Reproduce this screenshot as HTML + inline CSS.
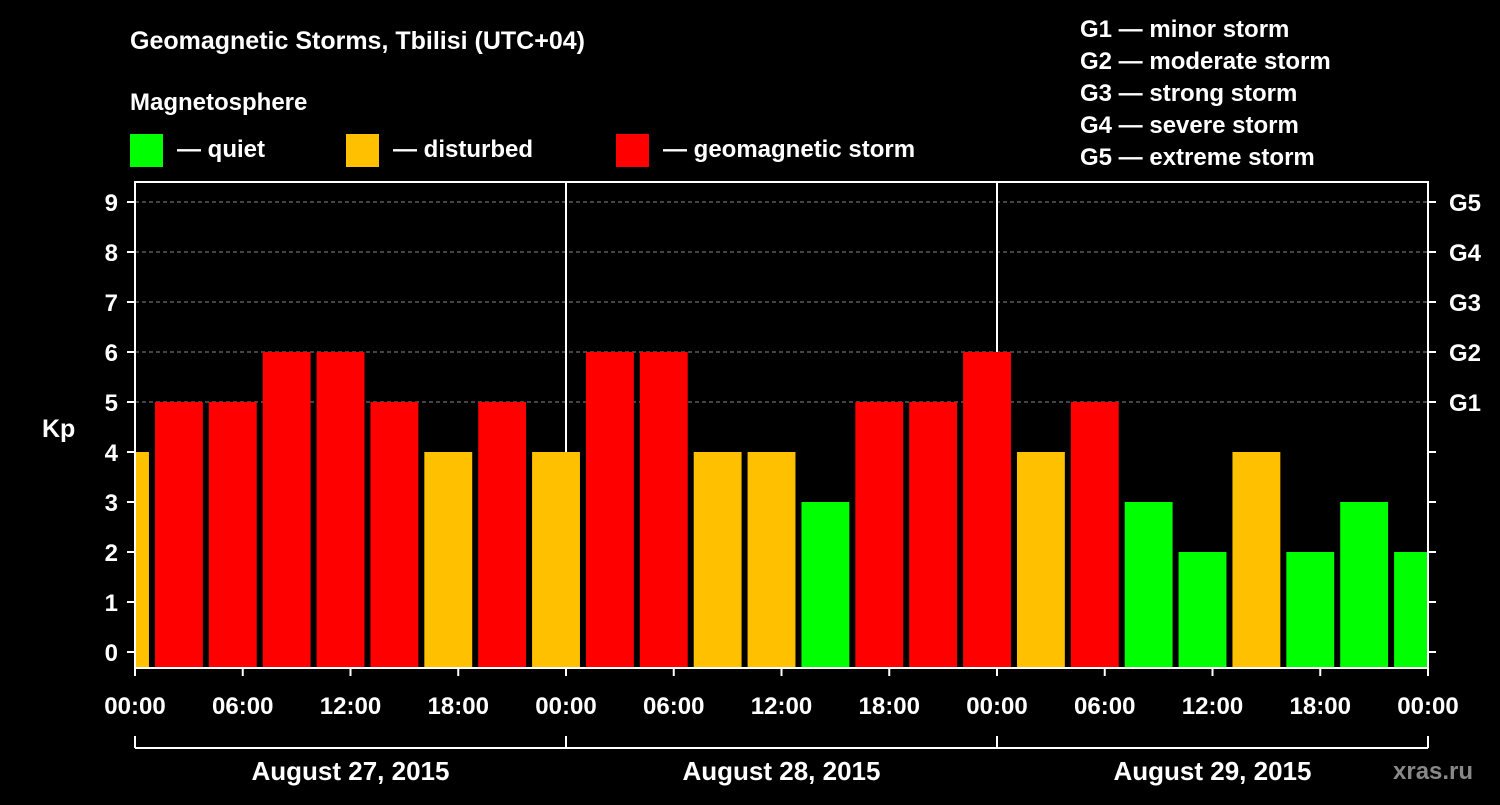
<!DOCTYPE html>
<html><head><meta charset="utf-8"><style>
body{margin:0;background:#000;width:1500px;height:800px;overflow:hidden}
svg text{font-family:"Liberation Sans",Arial,sans-serif;font-weight:bold;fill:#fff}
</style></head><body>
<svg id="chart" width="1500" height="800" xmlns="http://www.w3.org/2000/svg">
<rect width="1500" height="800" fill="#000"/>
<text x="130" y="49" font-size="25">Geomagnetic Storms, Tbilisi (UTC+04)</text>
<text x="130" y="110" font-size="24">Magnetosphere</text>
<g><rect x="130" y="134" width="33" height="33" fill="#00ff00"/><text x="177" y="157" font-size="24">— quiet</text></g>
<g><rect x="346" y="134" width="33" height="33" fill="#ffc000"/><text x="393" y="157" font-size="24">— disturbed</text></g>
<g><rect x="616" y="134" width="33" height="33" fill="#ff0000"/><text x="663" y="157" font-size="24">— geomagnetic storm</text></g>
<g font-size="24">
<text x="1080" y="37">G1 — minor storm</text>
<text x="1080" y="69">G2 — moderate storm</text>
<text x="1080" y="101">G3 — strong storm</text>
<text x="1080" y="133">G4 — severe storm</text>
<text x="1080" y="165">G5 — extreme storm</text>
</g>
<g id="grid"></g><g id="bars"></g><g id="axes"></g>
<text x="42" y="437" font-size="25">Kp</text>
<text x="1393" y="779" font-size="24" style="fill:#888">xras.ru</text>
</svg>
<script>
const kpValues=[4,5,5,6,6,5,4,5,4,6,6,4,4,3,5,5,6,4,5,3,2,4,2,3,2];
const barStartHours=[-2,1,4,7,10,13,16,19,22,25,28,31,34,37,40,43,46,49,52,55,58,61,64,67,70];
const xTickLabels=["00:00","06:00","12:00","18:00","00:00","06:00","12:00","18:00","00:00","06:00","12:00","18:00","00:00"];
const dayLabels=["August 27, 2015","August 28, 2015","August 29, 2015"];
const gLabels=["G1","G2","G3","G4","G5"];
const NS="http://www.w3.org/2000/svg";
const L=135,R=1428,T=182,B=668,H0=72;
const x=h=>L+(R-L)*h/H0;
const y=v=>652-50*v;
function mk(tag,a,p){const e=document.createElementNS(NS,tag);for(const k in a)e.setAttribute(k,a[k]);p.appendChild(e);return e;}
const grid=document.getElementById('grid'),bars=document.getElementById('bars'),axes=document.getElementById('axes');
for(let v=5;v<=9;v++){const l=mk('line',{x1:L,x2:R,y1:y(v),y2:y(v),stroke:'#888','stroke-dasharray':'4,3'},grid);

}
for(let d=1;d<3;d++){const l=mk('line',{x1:x(d*24),x2:x(d*24),y1:T,y2:B,stroke:'#fff','stroke-width':2},grid);

}
kpValues.forEach((v,i)=>{let x0=x(barStartHours[i])+2,x1=x(barStartHours[i]+3)-4;x0=Math.max(x0,L+1);x1=Math.min(x1,R-1);
const c=v>=5?'#ff0000':v>=4?'#ffc000':'#00ff00';
const r=mk('rect',{x:x0,y:y(v),width:x1-x0,height:B-y(v),fill:c},bars);

});
const fr=mk('rect',{x:L,y:T,width:R-L,height:B-T,fill:'none',stroke:'#fff','stroke-width':2},axes);


for(let v=0;v<=9;v++){mk('line',{x1:L-8,x2:L,y1:y(v),y2:y(v),stroke:'#fff','stroke-width':2},axes);
mk('line',{x1:R,x2:R+8,y1:y(v),y2:y(v),stroke:'#fff','stroke-width':2},axes);
const t=mk('text',{x:118,y:y(v)+9,'font-size':24,'text-anchor':'end'},axes);t.textContent=v;

}
gLabels.forEach((g,i)=>{const t=mk('text',{x:1449,y:y(i+5)+9,'font-size':24},axes);t.textContent=g;

});
xTickLabels.forEach((s,i)=>{const h=i*6;mk('line',{x1:x(h),x2:x(h),y1:B,y2:B+8,stroke:'#fff','stroke-width':2},axes);
const t=mk('text',{x:x(h),y:714,'font-size':24,'text-anchor':'middle'},axes);t.textContent=s;

});
mk('line',{x1:L,x2:R,y1:748,y2:748,stroke:'#fff','stroke-width':2},axes);
for(let d=0;d<=3;d++)mk('line',{x1:x(d*24),x2:x(d*24),y1:736,y2:748,stroke:'#fff','stroke-width':2},axes);
dayLabels.forEach((s,i)=>{const t=mk('text',{x:x(i*24+12),y:780,'font-size':26,'text-anchor':'middle'},axes);t.textContent=s;

});
</script>
</body></html>
